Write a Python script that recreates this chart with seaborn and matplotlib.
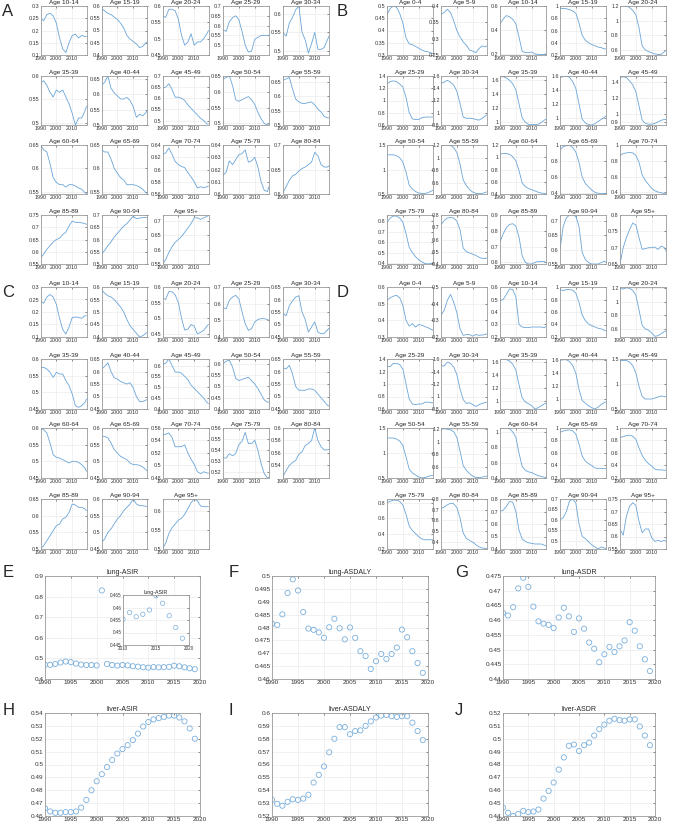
import matplotlib
matplotlib.use("Agg")
import matplotlib.pyplot as plt
from matplotlib.ticker import FuncFormatter
import seaborn as sns

# years used for the small age-group curves
YEARS = [1990, 1992, 1994, 1996, 1998, 2000, 2002, 2004, 2006, 2008, 2010, 2012, 2014, 2016, 2018, 2019]

AGES = ["0-4", "5-9", "10-14", "15-19", "20-24", "25-29", "30-34", "35-39", "40-44", "45-49",
        "50-54", "55-59", "60-64", "65-69", "70-74", "75-79", "80-84", "85-89", "90-94", "95+"]

# panel A (ages 10-14 .. 95+)
A_YLIM = [(0.1, 0.3), (0.4, 0.6), (0.45, 0.6), (0.45, 0.7), (0.49, 0.62), (0.495, 0.6),
          (0.5, 0.66), (0.48, 0.7), (0.495, 0.65), (0.5, 0.67), (0.545, 0.65), (0.545, 0.65),
          (0.56, 0.64), (0.6, 0.64), (0.6, 0.7), (0.55, 0.75), (0.5, 0.7), (0.55, 0.72)]
A_TICKS = [[0.1, 0.15, 0.2, 0.25, 0.3], [0.4, 0.45, 0.5, 0.55, 0.6], [0.45, 0.5, 0.55, 0.6],
           [0.5, 0.55, 0.6, 0.65, 0.7], [0.5, 0.55, 0.6], [0.5, 0.55, 0.6],
           [0.5, 0.55, 0.6, 0.65], [0.5, 0.55, 0.6, 0.65, 0.7], [0.5, 0.55, 0.6, 0.65],
           [0.5, 0.55, 0.6, 0.65], [0.55, 0.6, 0.65], [0.55, 0.6, 0.65],
           [0.56, 0.58, 0.6, 0.62, 0.64], [0.6, 0.61, 0.62, 0.63, 0.64], [0.6, 0.65, 0.7],
           [0.55, 0.6, 0.65, 0.7, 0.75], [0.5, 0.55, 0.6, 0.65, 0.7], [0.55, 0.6, 0.65, 0.7]]
A_VALUES = [
    [0.25, 0.24, 0.265, 0.27, 0.26, 0.23, 0.17, 0.125, 0.11, 0.15, 0.18, 0.185, 0.17, 0.18, 0.175, 0.175],
    [0.59, 0.58, 0.57, 0.565, 0.555, 0.545, 0.53, 0.51, 0.48, 0.465, 0.455, 0.445, 0.43, 0.435, 0.45, 0.455],
    [0.57, 0.565, 0.59, 0.59, 0.585, 0.56, 0.51, 0.48, 0.49, 0.515, 0.48, 0.49, 0.49, 0.50, 0.515, 0.525],
    [0.58, 0.57, 0.62, 0.64, 0.65, 0.63, 0.57, 0.50, 0.465, 0.47, 0.53, 0.54, 0.55, 0.55, 0.55, 0.55],
    [0.55, 0.54, 0.575, 0.59, 0.61, 0.62, 0.55, 0.53, 0.495, 0.52, 0.55, 0.505, 0.505, 0.51, 0.53, 0.54],
    [0.585, 0.59, 0.58, 0.565, 0.555, 0.57, 0.565, 0.57, 0.555, 0.54, 0.52, 0.495, 0.51, 0.51, 0.525, 0.535],
    [0.63, 0.64, 0.66, 0.62, 0.605, 0.595, 0.585, 0.585, 0.59, 0.58, 0.56, 0.525, 0.535, 0.53, 0.54, 0.55],
    [0.645, 0.65, 0.665, 0.64, 0.605, 0.605, 0.60, 0.59, 0.57, 0.555, 0.54, 0.525, 0.51, 0.50, 0.485, 0.485],
    [0.64, 0.645, 0.65, 0.62, 0.575, 0.57, 0.575, 0.58, 0.585, 0.575, 0.56, 0.535, 0.515, 0.50, 0.495, 0.50],
    [0.655, 0.66, 0.665, 0.625, 0.59, 0.58, 0.575, 0.575, 0.578, 0.58, 0.57, 0.555, 0.545, 0.53, 0.525, 0.525],
    [0.65, 0.64, 0.635, 0.61, 0.58, 0.57, 0.565, 0.565, 0.56, 0.565, 0.565, 0.562, 0.558, 0.555, 0.548, 0.545],
    [0.64, 0.635, 0.635, 0.62, 0.60, 0.59, 0.58, 0.575, 0.565, 0.565, 0.565, 0.563, 0.56, 0.555, 0.548, 0.545],
    [0.625, 0.627, 0.635, 0.625, 0.613, 0.608, 0.605, 0.603, 0.595, 0.588, 0.58, 0.57, 0.572, 0.57, 0.572, 0.573],
    [0.615, 0.618, 0.627, 0.624, 0.628, 0.632, 0.633, 0.636, 0.626, 0.627, 0.63, 0.622, 0.61, 0.603, 0.602, 0.606],
    [0.603, 0.615, 0.628, 0.637, 0.64, 0.647, 0.652, 0.655, 0.66, 0.665, 0.685, 0.678, 0.66, 0.655, 0.655, 0.657],
    [0.575, 0.59, 0.61, 0.625, 0.64, 0.65, 0.655, 0.67, 0.68, 0.705, 0.725, 0.72, 0.72, 0.718, 0.715, 0.712],
    [0.54, 0.555, 0.575, 0.59, 0.61, 0.625, 0.64, 0.655, 0.665, 0.68, 0.695, 0.685, 0.687, 0.69, 0.69, 0.69],
    [0.55, 0.565, 0.59, 0.61, 0.625, 0.635, 0.645, 0.66, 0.675, 0.69, 0.71, 0.71, 0.705, 0.71, 0.715, 0.72],
]

# panel B (ages 0-4 .. 95+)
B_YLIM = [(0.3, 0.5), (0.25, 0.4), (0.19, 0.6), (0.2, 1.0), (0.53, 1.2), (0.6, 1.4), (0.8, 1.6),
          (0.95, 1.65), (0.9, 1.6), (0.86, 1.48), (0.5, 1.5), (0.43, 1.2), (0.4, 1.2), (0.39, 1.0),
          (0.38, 1.0), (0.39, 0.86), (0.4, 0.8), (0.59, 0.9), (0.55, 0.72), (0.65, 0.8)]
B_TICKS = [[0.3, 0.35, 0.4, 0.45, 0.5], [0.25, 0.3, 0.35, 0.4], [0.2, 0.4, 0.6],
           [0.2, 0.4, 0.6, 0.8, 1], [0.6, 0.8, 1, 1.2], [0.6, 0.8, 1, 1.2, 1.4],
           [0.8, 1, 1.2, 1.4, 1.6], [1, 1.2, 1.4, 1.6], [1, 1.2, 1.4, 1.6], [0.9, 1, 1.2, 1.4],
           [0.5, 1, 1.5], [0.6, 0.8, 1, 1.2], [0.4, 0.6, 0.8, 1, 1.2], [0.4, 0.6, 0.8, 1],
           [0.4, 0.6, 0.8, 1], [0.4, 0.5, 0.6, 0.7, 0.8], [0.4, 0.5, 0.6, 0.7, 0.8],
           [0.6, 0.7, 0.8, 0.9], [0.55, 0.6, 0.65, 0.7], [0.65, 0.7, 0.75, 0.8]]
B_VALUES = [
    [0.465, 0.49, 0.50, 0.495, 0.47, 0.43, 0.37, 0.345, 0.342, 0.335, 0.328, 0.32, 0.315, 0.313, 0.308, 0.305],
    [0.375, 0.38, 0.39, 0.38, 0.355, 0.325, 0.305, 0.29, 0.28, 0.265, 0.262, 0.257, 0.27, 0.278, 0.275, 0.278],
    [0.45, 0.49, 0.52, 0.51, 0.49, 0.45, 0.34, 0.22, 0.21, 0.21, 0.215, 0.2, 0.195, 0.195, 0.195, 0.2],
    [0.96, 0.96, 0.955, 0.94, 0.92, 0.88, 0.72, 0.52, 0.44, 0.40, 0.37, 0.35, 0.33, 0.32, 0.30, 0.30],
    [1.2, 1.2, 1.2, 1.18, 1.14, 1.08, 0.90, 0.65, 0.60, 0.575, 0.56, 0.545, 0.535, 0.54, 0.575, 0.595],
    [1.27, 1.31, 1.32, 1.31, 1.27, 1.22, 1.05, 0.80, 0.70, 0.69, 0.69, 0.72, 0.73, 0.73, 0.73, 0.73],
    [1.48, 1.5, 1.53, 1.50, 1.45, 1.35, 1.15, 0.93, 0.91, 0.91, 0.905, 0.89, 0.88, 0.91, 0.95, 0.97],
    [1.64, 1.64, 1.62, 1.59, 1.54, 1.45, 1.25, 1.05, 0.99, 0.96, 0.955, 0.955, 0.96, 0.985, 1.02, 1.035],
    [1.58, 1.59, 1.6, 1.58, 1.52, 1.42, 1.2, 0.98, 0.93, 0.905, 0.9, 0.92, 0.95, 0.98, 1.01, 1.03],
    [1.46, 1.47, 1.46, 1.42, 1.37, 1.28, 1.1, 0.92, 0.88, 0.87, 0.87, 0.88, 0.9, 0.92, 0.93, 0.93],
    [1.3, 1.3, 1.3, 1.28, 1.24, 1.15, 0.95, 0.68, 0.6, 0.55, 0.52, 0.51, 0.51, 0.53, 0.56, 0.575],
    [1.2, 1.2, 1.2, 1.19, 1.16, 1.08, 0.9, 0.65, 0.56, 0.5, 0.46, 0.44, 0.435, 0.44, 0.455, 0.465],
    [1.05, 1.06, 1.06, 1.05, 1.01, 0.94, 0.78, 0.58, 0.52, 0.49, 0.47, 0.45, 0.43, 0.415, 0.41, 0.41],
    [0.94, 0.98, 0.99, 0.995, 0.97, 0.91, 0.78, 0.60, 0.52, 0.48, 0.44, 0.41, 0.40, 0.395, 0.395, 0.395],
    [0.87, 0.89, 0.9, 0.905, 0.9, 0.87, 0.78, 0.62, 0.55, 0.5, 0.45, 0.42, 0.405, 0.395, 0.385, 0.38],
    [0.79, 0.83, 0.85, 0.85, 0.83, 0.79, 0.68, 0.55, 0.5, 0.46, 0.43, 0.41, 0.395, 0.39, 0.395, 0.40],
    [0.72, 0.755, 0.775, 0.78, 0.775, 0.75, 0.68, 0.53, 0.5, 0.49, 0.48, 0.47, 0.455, 0.445, 0.445, 0.45],
    [0.73, 0.78, 0.82, 0.84, 0.845, 0.83, 0.76, 0.64, 0.6, 0.59, 0.59, 0.6, 0.605, 0.605, 0.605, 0.6],
    [0.6, 0.68, 0.71, 0.72, 0.72, 0.715, 0.68, 0.59, 0.565, 0.555, 0.55, 0.55, 0.55, 0.555, 0.56, 0.555],
    [0.65, 0.7, 0.73, 0.755, 0.775, 0.77, 0.73, 0.695, 0.697, 0.7, 0.7, 0.702, 0.695, 0.705, 0.7, 0.69],
]

# panel C (ages 10-14 .. 95+)
C_YLIM = [(0.1, 0.3), (0.4, 0.6), (0.44, 0.6), (0.4, 0.7), (0.45, 0.65), (0.45, 0.6),
          (0.45, 0.65), (0.4, 0.63), (0.4, 0.62), (0.45, 0.65), (0.45, 0.6), (0.45, 0.6),
          (0.48, 0.56), (0.515, 0.56), (0.52, 0.6), (0.5, 0.65), (0.45, 0.6), (0.5, 0.63)]
C_TICKS = [[0.1, 0.15, 0.2, 0.25, 0.3], [0.4, 0.45, 0.5, 0.55, 0.6], [0.45, 0.5, 0.55, 0.6],
           [0.4, 0.5, 0.6, 0.7], [0.45, 0.5, 0.55, 0.6, 0.65], [0.45, 0.5, 0.55, 0.6],
           [0.45, 0.5, 0.55, 0.6, 0.65], [0.4, 0.45, 0.5, 0.55, 0.6], [0.4, 0.45, 0.5, 0.55, 0.6],
           [0.45, 0.5, 0.55, 0.6, 0.65], [0.45, 0.5, 0.55, 0.6], [0.45, 0.5, 0.55, 0.6],
           [0.48, 0.5, 0.52, 0.54, 0.56], [0.52, 0.53, 0.54, 0.55, 0.56], [0.54, 0.56, 0.58, 0.6],
           [0.5, 0.55, 0.6, 0.65], [0.45, 0.5, 0.55, 0.6], [0.5, 0.55, 0.6]]
C_VALUES = [
    [0.245, 0.235, 0.26, 0.27, 0.26, 0.23, 0.175, 0.13, 0.112, 0.14, 0.178, 0.18, 0.178, 0.175, 0.185, 0.185],
    [0.59, 0.575, 0.565, 0.56, 0.55, 0.535, 0.52, 0.50, 0.47, 0.445, 0.43, 0.415, 0.40, 0.405, 0.415, 0.42],
    [0.565, 0.56, 0.585, 0.585, 0.575, 0.55, 0.50, 0.462, 0.465, 0.48, 0.475, 0.45, 0.455, 0.462, 0.475, 0.48],
    [0.575, 0.57, 0.62, 0.64, 0.65, 0.63, 0.55, 0.48, 0.44, 0.45, 0.49, 0.505, 0.51, 0.51, 0.505, 0.50],
    [0.545, 0.535, 0.575, 0.595, 0.61, 0.615, 0.55, 0.52, 0.47, 0.49, 0.51, 0.47, 0.463, 0.465, 0.478, 0.485],
    [0.575, 0.575, 0.57, 0.56, 0.545, 0.56, 0.555, 0.555, 0.535, 0.52, 0.495, 0.46, 0.455, 0.46, 0.47, 0.48],
    [0.61, 0.62, 0.635, 0.6, 0.575, 0.57, 0.56, 0.555, 0.55, 0.555, 0.535, 0.50, 0.48, 0.48, 0.485, 0.49],
    [0.605, 0.61, 0.63, 0.60, 0.57, 0.57, 0.565, 0.55, 0.535, 0.51, 0.495, 0.48, 0.465, 0.45, 0.43, 0.425],
    [0.6, 0.61, 0.615, 0.585, 0.535, 0.525, 0.53, 0.535, 0.54, 0.525, 0.51, 0.49, 0.465, 0.44, 0.43, 0.43],
    [0.615, 0.61, 0.625, 0.59, 0.54, 0.525, 0.525, 0.525, 0.53, 0.53, 0.525, 0.51, 0.495, 0.48, 0.465, 0.462],
    [0.6, 0.595, 0.585, 0.555, 0.52, 0.512, 0.51, 0.505, 0.5, 0.495, 0.5, 0.5, 0.497, 0.49, 0.48, 0.47],
    [0.575, 0.575, 0.57, 0.555, 0.535, 0.525, 0.515, 0.51, 0.505, 0.495, 0.49, 0.49, 0.488, 0.483, 0.475, 0.47],
    [0.55, 0.55, 0.552, 0.545, 0.53, 0.53, 0.53, 0.533, 0.52, 0.51, 0.502, 0.49, 0.487, 0.49, 0.488, 0.488],
    [0.533, 0.533, 0.537, 0.535, 0.537, 0.545, 0.548, 0.556, 0.546, 0.546, 0.549, 0.54, 0.528, 0.519, 0.515, 0.516],
    [0.522, 0.532, 0.54, 0.545, 0.548, 0.558, 0.562, 0.572, 0.575, 0.58, 0.6, 0.58, 0.57, 0.565, 0.565, 0.566],
    [0.5, 0.51, 0.525, 0.54, 0.555, 0.57, 0.575, 0.59, 0.595, 0.61, 0.635, 0.632, 0.625, 0.625, 0.62, 0.615],
    [0.47, 0.48, 0.5, 0.51, 0.525, 0.54, 0.55, 0.565, 0.575, 0.585, 0.6, 0.585, 0.58, 0.58, 0.578, 0.578],
    [0.5, 0.515, 0.54, 0.555, 0.565, 0.575, 0.58, 0.59, 0.605, 0.62, 0.63, 0.625, 0.612, 0.61, 0.61, 0.61],
]

# panel D (ages 0-4 .. 95+)
D_YLIM = [(0.3, 0.6), (0.2, 0.5), (0.2, 0.6), (0.2, 1.0), (0.48, 1.22), (0.6, 1.4), (0.8, 1.6),
          (0.88, 1.65), (0.85, 1.62), (0.5, 1.5), (0.5, 1.5), (0.42, 1.22), (0.4, 1.05), (0.2, 1.0),
          (0.2, 1.0), (0.2, 0.85), (0.33, 0.8), (0.4, 0.8), (0.46, 0.7), (0.55, 0.75)]
D_TICKS = [[0.3, 0.4, 0.5, 0.6], [0.2, 0.3, 0.4, 0.5], [0.2, 0.3, 0.4, 0.5, 0.6],
           [0.2, 0.4, 0.6, 0.8, 1], [0.6, 0.8, 1, 1.2], [0.6, 0.8, 1, 1.2, 1.4],
           [0.8, 1, 1.2, 1.4, 1.6], [1, 1.2, 1.4, 1.6], [1, 1.2, 1.4, 1.6], [0.5, 1, 1.5],
           [0.5, 1, 1.5], [0.6, 0.8, 1, 1.2], [0.4, 0.6, 0.8, 1], [0.2, 0.4, 0.6, 0.8, 1],
           [0.2, 0.4, 0.6, 0.8, 1], [0.2, 0.4, 0.6, 0.8], [0.4, 0.5, 0.6, 0.7, 0.8],
           [0.4, 0.5, 0.6, 0.7, 0.8], [0.5, 0.55, 0.6, 0.65, 0.7], [0.55, 0.6, 0.65, 0.7, 0.75]]
D_VALUES = [
    [0.52, 0.535, 0.545, 0.55, 0.535, 0.49, 0.40, 0.365, 0.38, 0.36, 0.375, 0.37, 0.362, 0.355, 0.345, 0.34],
    [0.33, 0.36, 0.42, 0.455, 0.41, 0.345, 0.25, 0.21, 0.215, 0.215, 0.205, 0.215, 0.21, 0.212, 0.215, 0.22],
    [0.49, 0.5, 0.54, 0.585, 0.58, 0.52, 0.3, 0.28, 0.275, 0.275, 0.28, 0.28, 0.28, 0.28, 0.275, 0.285],
    [0.96, 0.94, 0.96, 0.96, 0.95, 0.9, 0.75, 0.55, 0.46, 0.41, 0.38, 0.36, 0.34, 0.33, 0.305, 0.30],
    [1.2, 1.19, 1.21, 1.2, 1.17, 1.1, 0.88, 0.65, 0.6, 0.58, 0.54, 0.49, 0.5, 0.53, 0.56, 0.57],
    [1.28, 1.28, 1.33, 1.33, 1.31, 1.24, 1.0, 0.76, 0.68, 0.67, 0.68, 0.68, 0.71, 0.71, 0.70, 0.70],
    [1.49, 1.49, 1.55, 1.53, 1.47, 1.35, 1.12, 0.95, 0.89, 0.9, 0.87, 0.84, 0.87, 0.89, 0.905, 0.91],
    [1.64, 1.65, 1.64, 1.62, 1.57, 1.48, 1.25, 1.05, 0.99, 0.96, 0.93, 0.88, 0.9, 0.93, 0.96, 0.97],
    [1.6, 1.61, 1.61, 1.58, 1.52, 1.4, 1.15, 0.98, 0.94, 0.9, 0.87, 0.85, 0.88, 0.92, 0.95, 0.96],
    [1.47, 1.47, 1.47, 1.44, 1.37, 1.22, 0.95, 0.75, 0.7, 0.7, 0.7, 0.72, 0.74, 0.76, 0.75, 0.74],
    [1.3, 1.3, 1.3, 1.28, 1.24, 1.15, 0.92, 0.68, 0.6, 0.56, 0.52, 0.5, 0.51, 0.53, 0.55, 0.55],
    [1.2, 1.21, 1.2, 1.19, 1.16, 1.07, 0.85, 0.62, 0.54, 0.49, 0.45, 0.43, 0.425, 0.435, 0.445, 0.45],
    [1.04, 1.05, 1.05, 1.04, 1.0, 0.93, 0.72, 0.55, 0.5, 0.48, 0.47, 0.45, 0.43, 0.42, 0.41, 0.405],
    [0.93, 0.95, 0.965, 0.97, 0.955, 0.9, 0.74, 0.55, 0.47, 0.43, 0.4, 0.36, 0.355, 0.355, 0.35, 0.35],
    [0.85, 0.86, 0.88, 0.885, 0.87, 0.82, 0.68, 0.56, 0.48, 0.43, 0.39, 0.34, 0.33, 0.33, 0.325, 0.325],
    [0.8, 0.82, 0.835, 0.835, 0.82, 0.77, 0.65, 0.5, 0.44, 0.4, 0.36, 0.33, 0.32, 0.32, 0.32, 0.32],
    [0.71, 0.725, 0.745, 0.76, 0.755, 0.72, 0.62, 0.48, 0.43, 0.41, 0.395, 0.37, 0.35, 0.34, 0.335, 0.335],
    [0.7, 0.71, 0.74, 0.78, 0.775, 0.7, 0.55, 0.48, 0.46, 0.45, 0.445, 0.44, 0.44, 0.44, 0.43, 0.425],
    [0.6, 0.61, 0.64, 0.69, 0.7, 0.68, 0.58, 0.52, 0.51, 0.495, 0.48, 0.47, 0.46, 0.47, 0.465, 0.46],
    [0.63, 0.605, 0.68, 0.72, 0.735, 0.725, 0.66, 0.615, 0.63, 0.63, 0.595, 0.58, 0.585, 0.58, 0.585, 0.58],
]

# yearly scatter panels E-J
SC_YEARS = list(range(1990, 2020))
LUNG_ASIR = [0.469, 0.469, 0.473, 0.480, 0.485, 0.482, 0.475, 0.470, 0.468, 0.468,
             0.466, 0.830, 0.473, 0.468, 0.465, 0.468, 0.466, 0.462, 0.460, 0.457,
             0.4553, 0.4580, 0.4563, 0.4573, 0.4590, 0.4647, 0.4617, 0.4567, 0.4520, 0.4477]
LUNG_ASDALY = [0.4815, 0.4810, 0.4851, 0.4934, 0.4987, 0.4944, 0.4860, 0.4796, 0.4791, 0.4781,
               0.4760, 0.4801, 0.4834, 0.4797, 0.4754, 0.4800, 0.4760, 0.4708, 0.4689, 0.4639,
               0.4669, 0.4697, 0.4678, 0.4697, 0.4722, 0.4792, 0.4762, 0.4708, 0.4662, 0.4624]
LUNG_ASDR = [0.4625, 0.4616, 0.4644, 0.4708, 0.4744, 0.4713, 0.4646, 0.4596, 0.4588, 0.4584,
             0.4573, 0.4609, 0.4642, 0.4613, 0.4560, 0.4606, 0.4571, 0.4524, 0.4503, 0.4457,
             0.4484, 0.4509, 0.4492, 0.4511, 0.4531, 0.4593, 0.4564, 0.4511, 0.4467, 0.4427]
LIVER_ASIR = [0.466, 0.4635, 0.4625, 0.4625, 0.463, 0.463, 0.4635, 0.4665, 0.4725, 0.480,
              0.487, 0.4925, 0.498, 0.5035, 0.5085, 0.512, 0.515, 0.519, 0.524, 0.5295,
              0.533, 0.535, 0.536, 0.537, 0.538, 0.538, 0.5365, 0.5335, 0.528, 0.520]
LIVER_ASDALY = [0.5325, 0.5295, 0.528, 0.531, 0.533, 0.5325, 0.5335, 0.5365, 0.546, 0.552,
                0.5585, 0.5695, 0.580, 0.589, 0.589, 0.5835, 0.586, 0.5865, 0.590, 0.5935,
                0.5965, 0.598, 0.5985, 0.5975, 0.597, 0.5975, 0.5975, 0.5925, 0.586, 0.579]
LIVER_ASDR = [0.4465, 0.4425, 0.440, 0.4415, 0.444, 0.443, 0.4435, 0.445, 0.4535, 0.4595,
              0.466, 0.476, 0.4855, 0.4945, 0.4955, 0.4905, 0.495, 0.497, 0.5025, 0.5075,
              0.511, 0.514, 0.5155, 0.5145, 0.514, 0.515, 0.515, 0.5095, 0.5025, 0.495]

LINE_COLOR = "#6aa5d8"
MARK_COLOR = "#7aafdc"
EDGE = "#9a9a9a"
W, H = 676, 832

sns.set_style("white")
plt.rcParams["font.family"] = ["Liberation Sans", "DejaVu Sans"]

fig = plt.figure(figsize=(W / 100, H / 100), dpi=100)
fmt = FuncFormatter(lambda v, _: f"{v:g}")


def px_axes(left, top, width, height):
    return fig.add_axes([left / W, 1 - (top + height) / H, width / W, height / H])


def matlab_look(ax, fs):
    for s in ax.spines.values():
        s.set_visible(True)
        s.set_color(EDGE)
        s.set_linewidth(0.6)
    ax.grid(True, color="#e6e6e6", linewidth=0.4)
    ax.set_axisbelow(True)
    ax.tick_params(direction="in", length=1.5, width=0.4, labelsize=fs, pad=1,
                   colors="#333333", top=True, right=True)
    ax.xaxis.set_major_formatter(fmt)
    ax.yaxis.set_major_formatter(fmt)
    ax.set_xlabel("")
    ax.set_ylabel("")


def age_panel(letter, titles, ylims, ticks, values, centers, tops, height, label_xy):
    width = 46
    for i, (ttl, lim, tk, vals) in enumerate(zip(titles, ylims, ticks, values)):
        r, c = divmod(i, 5)
        ax = px_axes(centers[c] - width / 2, tops[r], width, height)
        sns.lineplot(x=YEARS, y=vals, ax=ax, color=LINE_COLOR, linewidth=0.6, legend=False)
        ax.set_xlim(1990, 2019)
        ax.set_ylim(*lim)
        ax.set_xticks([1990, 2000, 2010])
        ax.set_yticks(tk)
        matlab_look(ax, 3.9)
        ax.set_title("Age " + ttl, fontsize=4.6, pad=1.2)
    fig.text(label_xy[0] / W, 1 - label_xy[1] / H, letter, fontsize=12, va="top", ha="left")


AC_CENTERS = [63.5, 124.5, 185.5, 246, 306]
BD_CENTERS = [410, 464, 523, 583, 643]
age_panel("A", AGES[2:], A_YLIM, A_TICKS, A_VALUES, AC_CENTERS, [6, 76, 145, 215], 49, (2, 4))
age_panel("B", AGES, B_YLIM, B_TICKS, B_VALUES, BD_CENTERS, [6, 76, 145, 215], 49, (337, 4))
age_panel("C", AGES[2:], C_YLIM, C_TICKS, C_VALUES, AC_CENTERS, [287, 359, 428, 499], 50, (2, 285))
age_panel("D", AGES, D_YLIM, D_TICKS, D_VALUES, BD_CENTERS, [287, 359, 428, 499], 50, (337, 285))


def scatter_panel(letter, title, vals, rect, ylim, step, label_x, label_y):
    ax = px_axes(*rect)
    sns.scatterplot(x=SC_YEARS, y=vals, ax=ax, marker="o", s=14, facecolor="none",
                    edgecolor=MARK_COLOR, linewidth=0.6, legend=False)
    ax.set_xlim(1990, 2020)
    ax.set_xticks(range(1990, 2021, 5))
    ax.set_ylim(*ylim)
    n = int(round((ylim[1] - ylim[0]) / step))
    ax.set_yticks([round(ylim[0] + k * step, 4) for k in range(n + 1)])
    matlab_look(ax, 4.6)
    ax.set_title(title, fontsize=5, pad=1.5)
    fig.text(label_x / W, 1 - label_y / H, letter, fontsize=12, va="top", ha="left")
    return ax


axE = scatter_panel("E", "lung-ASIR", LUNG_ASIR, (45, 576, 155, 103), (0.4, 0.9), 0.1, 3, 565)
scatter_panel("F", "lung-ASDALY", LUNG_ASDALY, (272, 576, 156, 103), (0.46, 0.5), 0.005, 229, 565)
scatter_panel("G", "lung-ASDR", LUNG_ASDR, (503, 576, 152, 103), (0.44, 0.475), 0.005, 455, 565)
scatter_panel("H", "liver-ASIR", LIVER_ASIR, (45, 713, 155, 103), (0.46, 0.54), 0.01, 3, 703)
scatter_panel("I", "liver-ASDALY", LIVER_ASDALY, (272, 713, 156, 103), (0.52, 0.6), 0.01, 229, 703)
scatter_panel("J", "liver-ASDR", LIVER_ASDR, (503, 713, 152, 103), (0.44, 0.52), 0.01, 455, 703)

# zoomed inset of the last decade of lung-ASIR
inset = px_axes(123, 595, 66, 50)
inset.set_facecolor("white")
yrs_in = [y for y in SC_YEARS if y >= 2010]
vals_in = [v for y, v in zip(SC_YEARS, LUNG_ASIR) if y >= 2010]
sns.scatterplot(x=yrs_in, y=vals_in, ax=inset, marker="o", s=10, facecolor="none",
                edgecolor=MARK_COLOR, linewidth=0.5, legend=False)
inset.set_xlim(2010, 2020)
inset.set_xticks([2010, 2015, 2020])
inset.set_ylim(0.445, 0.465)
inset.set_yticks([0.445, 0.45, 0.455, 0.46, 0.465])
matlab_look(inset, 3.3)
inset.set_title("lung-ASIR", fontsize=3.8, pad=1)

fig.savefig("out.png", dpi=100)
